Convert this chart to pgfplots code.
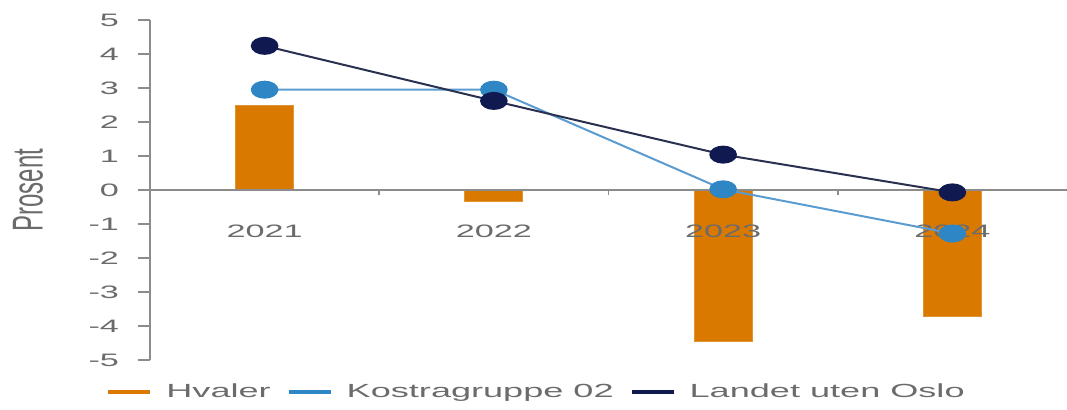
\documentclass[border=0pt]{standalone}
\usepackage{fontspec}
\setmainfont{Liberation Sans}
\usepackage{pgfplots}
\pgfplotsset{compat=1.18}
\usetikzlibrary{calc}
\definecolor{barorange}{HTML}{D97900}
\definecolor{kblue}{HTML}{2F86C4}
\definecolor{kline}{HTML}{5A9BD0}
\definecolor{navy}{HTML}{111A50}
\definecolor{navyline}{HTML}{2A3050}
\definecolor{txtgray}{HTML}{6B6B6B}
\definecolor{axgray}{HTML}{8C8C8C}
\newcommand{\sx}[1]{\scalebox{1.9}[1]{#1}}
\begin{document}
\begin{tikzpicture}
\begin{axis}[name=ax, scale only axis, width=458.5pt, height=170pt,
  set layers,
  xmin=-0.5, xmax=3.5, ymin=-5, ymax=5,
  axis x line*=middle, axis y line*=left,
  axis line style={axgray, line width=1pt},
  xtick={0,1,2,3},
  xticklabels={\sx{2021},\sx{2022},\sx{2023},\sx{2024}},
  minor xtick={0.5,1.5,2.5},
  major x tick style={draw=none},
  minor x tick style={axgray, line width=0.8pt},
  minor tick length=2.5pt,
  ytick={-5,-4,...,5},
  yticklabel={\sx{\pgfmathprintnumber[assume math mode=true]{\tick}}},
  major tick length=6pt,
  y tick style={axgray, line width=0.8pt},
  tick align=outside,
  ticklabel style={font=\fontsize{9}{10}\selectfont, text=txtgray},
  xticklabel style={anchor=center, yshift=-14.75pt},
  yticklabel style={anchor=east, xshift=-6pt},
  ylabel={\scalebox{1}[1.8]{\fontsize{12}{14}\selectfont Prosent}},
  ylabel style={at={(rel axis cs:0,0.5)}, anchor=center, yshift=61pt, text=txtgray},
  legend style={at={(rel axis cs:0.4226,-0.094)}, anchor=center, legend columns=-1,
    draw=none, fill=none, font=\fontsize{9.5}{11}\selectfont, text=txtgray,
    /tikz/every odd column/.append style={column sep=5pt},
    /tikz/every even column/.append style={column sep=6pt}},
  legend cell align=left,
]
\addplot[ybar, bar width=29pt, fill=barorange, draw=barorange!80!white, on layer=axis background,
  legend image code/.code={\draw[barorange, line width=2pt] (0pt,0pt) -- (21pt,0pt);}]
  coordinates {(0,2.49) (1,-0.35) (2,-4.45) (3,-3.71)};
\addlegendentry{\sx{Hvaler}}
\addplot[kline, line width=1pt, mark=*, mark size=4pt,
  mark options={fill=kblue, draw=kblue, xscale=1.6},
  legend image code/.code={\draw[kblue, line width=2pt] (0pt,0pt) -- (21pt,0pt);}]
  coordinates {(0,2.95) (1,2.95) (2,0.02) (3,-1.28)};
\addlegendentry{\sx{Kostragruppe 02}}
\addplot[navyline, line width=1pt, mark=*, mark size=4pt,
  mark options={fill=navy, draw=navy, xscale=1.6},
  legend image code/.code={\draw[navy, line width=2pt] (0pt,0pt) -- (21pt,0pt);}]
  coordinates {(0,4.24) (1,2.62) (2,1.04) (3,-0.07)};
\addlegendentry{\sx{Landet uten Oslo}}
\end{axis}
\pgfresetboundingbox
\path ($(ax.south west)+(-75pt,-25pt)$) rectangle ($(ax.north east)+(0pt,10pt)$);
\end{tikzpicture}
\end{document}
